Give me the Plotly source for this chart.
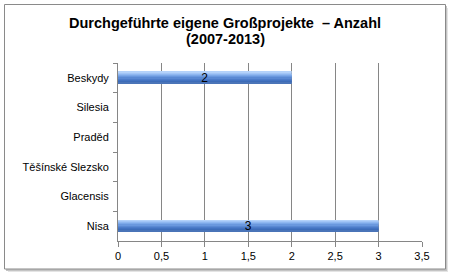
import plotly.graph_objects as go

categories = ["Beskydy", "Silesia", "Praděd", "Těšínské Slezsko", "Glacensis", "Nisa"]
values = [2, 0, 0, 0, 0, 3]
x_ticks = [0, 0.5, 1, 1.5, 2, 2.5, 3, 3.5]
title_lines = ["Durchgeführte eigene Großprojekte  – Anzahl", "(2007-2013)"]

W, H = 450, 275
L, R, T, B = 118, 28, 63, 34
pw, ph = W - L - R, H - T - B

def px(x):
    return (x - L) / pw

def py(y):
    return (H - B - y) / ph

slice_colors = ["#b4d2fa", "#a2c5f6", "#8fb7f0", "#7ca8e8", "#6a98de", "#5a89d3",
                "#4d7cc9", "#4373c1", "#3d6cb8", "#4a74b8"]
bar_w = 0.4
n = len(slice_colors)
sw = bar_w / n

fig = go.Figure()
for i, c in enumerate(slice_colors):
    fig.add_trace(go.Bar(
        y=categories, x=values, orientation="h",
        width=sw * 1.02, offset=-bar_w / 2 + i * sw,
        marker=dict(color=c, line=dict(width=0)),
        hoverinfo="skip", showlegend=False,
    ))
fig.add_trace(go.Bar(
    y=categories, x=values, orientation="h",
    width=bar_w, offset=-bar_w / 2,
    marker=dict(color="rgba(0,0,0,0)", line=dict(width=0)),
    text=[str(v) if v else "" for v in values],
    textposition="inside", insidetextanchor="middle", constraintext="none",
    textangle=0,
    textfont=dict(family="Liberation Sans, Arial", size=12, color="#000000"),
    showlegend=False,
))

shapes = [
    dict(type="rect", xref="paper", yref="paper", layer="below",
         x0=px(8), x1=px(448), y0=py(8), y1=py(272),
         fillcolor="#e4e4e4", line=dict(width=0)),
    dict(type="rect", xref="paper", yref="paper", layer="below",
         x0=px(6), x1=px(447), y0=py(6), y1=py(271),
         fillcolor="#c4c4c4", line=dict(width=0)),
    dict(type="rect", xref="paper", yref="paper", layer="below",
         x0=px(4.5), x1=px(445.5), y0=py(4.5), y1=py(269),
         fillcolor="#ffffff", line=dict(color="#8a8a8a", width=1)),
]

for line, yc in zip(title_lines, [23.5, 38.5]):
    fig.add_annotation(
        text="<b>" + line + "</b>", xref="paper", yref="paper",
        x=px(225), y=py(yc), xanchor="center", yanchor="middle",
        showarrow=False, align="center",
        font=dict(family="Liberation Sans, Arial", size=14.5, color="#000000"),
    )

fig.update_layout(
    width=W, height=H,
    margin=dict(l=L, r=R, t=T, b=B),
    paper_bgcolor="#ffffff", plot_bgcolor="rgba(0,0,0,0)",
    barmode="overlay",
    separators=", ",
    font=dict(family="Liberation Sans, Arial", size=11, color="#000000"),
    shapes=shapes,
    xaxis=dict(range=[0, 3.5], tickvals=x_ticks, tickformat=".1~f",
               showgrid=True, gridcolor="#868686", gridwidth=1,
               showline=True, linecolor="#868686", linewidth=1,
               ticks="outside", ticklen=5, tickcolor="#868686",
               zeroline=False, fixedrange=True),
    yaxis=dict(autorange="reversed", showgrid=False,
               showline=True, linecolor="#868686", linewidth=1,
               ticks="outside", ticklen=4, tickcolor="#868686",
               tickson="boundaries", ticklabelstandoff=6,
               zeroline=False, fixedrange=True),
)

fig.write_html("out.html")
